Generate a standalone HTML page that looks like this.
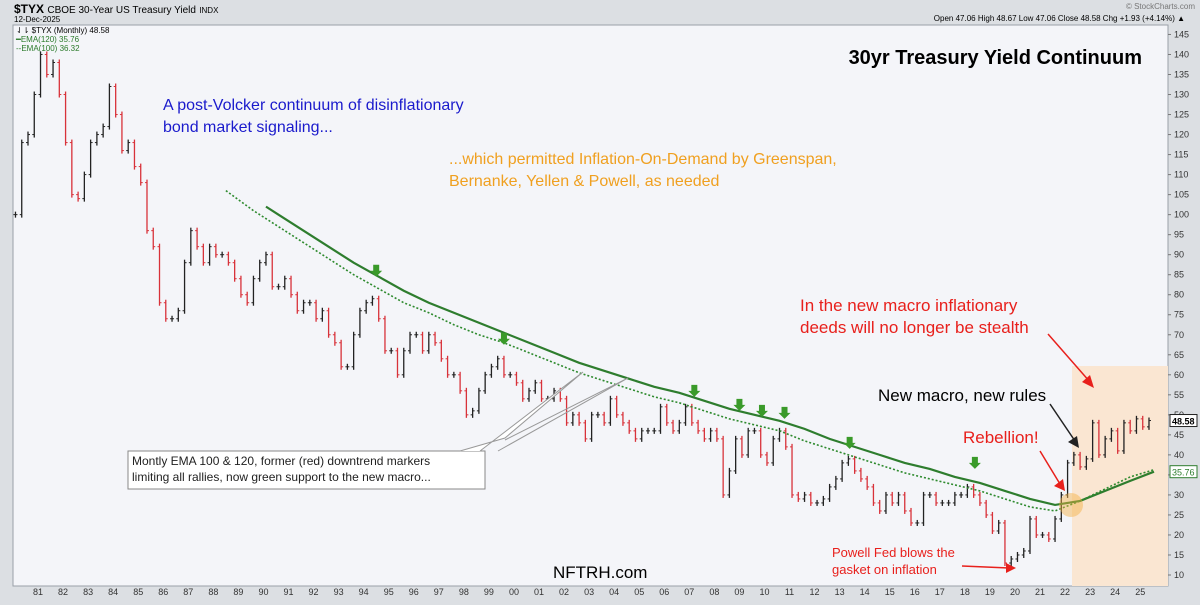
<!DOCTYPE html>
<html><head><meta charset="utf-8"><style>
body{margin:0;width:1200px;height:600px;overflow:hidden;background:#dcdfe3;font-family:"Liberation Sans",sans-serif}
</style></head><body>
<svg id="c" width="1200" height="600" xmlns="http://www.w3.org/2000/svg" font-family="Liberation Sans, sans-serif">
<rect x="0" y="0" width="1200" height="600" fill="#dcdfe3"/>
<rect x="13" y="25" width="1155" height="561" fill="#f4f5f9" stroke="#9aa0a8"/>
<rect x="1072" y="366" width="96" height="220" fill="#fae6d2"/>
<text x="14" y="13" font-size="12" font-weight="bold">$TYX <tspan font-weight="normal" font-size="10">CBOE 30-Year US Treasury Yield</tspan> <tspan font-weight="normal" font-size="8">INDX</tspan></text>
<text x="14" y="22" font-size="8">12-Dec-2025</text>
<text x="1195" y="9" font-size="8" fill="#777" text-anchor="end">© StockCharts.com</text>
<text x="1185" y="21" font-size="8" text-anchor="end">Open 47.06  High 48.67  Low 47.06  Close 48.58  Chg +1.93 (+4.14%) ▲</text>
<text x="16" y="33" font-size="8">⇃⇂ $TYX (Monthly) 48.58</text>
<text x="16" y="42" font-size="8" fill="#2a7a2a">━EMA(120) 35.76</text>
<text x="16" y="51" font-size="8" fill="#2a7a2a">--EMA(100) 36.32</text>
<g id="axes"></g><g id="bars"></g><g id="emas"></g><g id="marks"></g>
<text x="1142" y="64" font-size="20" font-weight="bold" text-anchor="end">30yr Treasury Yield Continuum</text>
<g font-size="16" fill="#1a1acc"><text x="163" y="110">A post-Volcker continuum of disinflationary</text><text x="163" y="132">bond market signaling...</text></g>
<g font-size="16" fill="#f0a020"><text x="449" y="164">...which permitted Inflation-On-Demand by Greenspan,</text><text x="449" y="186">Bernanke, Yellen &amp; Powell, as needed</text></g>
<g font-size="17" fill="#e8201c"><text x="800" y="311">In the new macro inflationary</text><text x="800" y="333">deeds will no longer be stealth</text></g>
<text x="878" y="401" font-size="17">New macro, new rules</text>
<text x="963" y="443" font-size="17" fill="#e8201c">Rebellion!</text>
<g font-size="13" fill="#e8201c"><text x="832" y="557">Powell Fed blows the</text><text x="832" y="574">gasket on inflation</text></g>
<text x="553" y="578" font-size="17">NFTRH.com</text>
<g>
<polygon points="128,451 485,451 485,489 128,489" fill="#fff" stroke="#888"/>
<polyline points="480,451 583,372 505,438 460,451" fill="#fff" stroke="#999"/>
<polyline points="498,451 628,378 505,440" fill="none" stroke="#999"/>
<rect x="129" y="452" width="355" height="36" fill="#fff"/>
<text x="132" y="465" font-size="12" fill="#222">Montly EMA 100 &amp; 120, former (red) downtrend markers</text>
<text x="132" y="481" font-size="12" fill="#222">limiting all rallies, now green support to the new macro...</text>
</g>
<g stroke-width="1.5">
<line x1="1048" y1="334" x2="1090" y2="382" stroke="#e8201c"/><polygon points="1094,388 1082,382 1090,375" fill="#e8201c"/>
<line x1="1050" y1="404" x2="1075" y2="441" stroke="#222"/><polygon points="1079,448 1068,442 1077,436" fill="#222"/>
<line x1="1040" y1="451" x2="1060" y2="484" stroke="#e8201c"/><polygon points="1065,491 1054,486 1063,479" fill="#e8201c"/>
<line x1="962" y1="566" x2="1009" y2="568" stroke="#e8201c"/><polygon points="1016,568 1006,563 1006,573" fill="#e8201c"/>
</g>
<circle cx="1071" cy="505" r="12" fill="#f5b040" opacity="0.45"/>
</svg>
<script>
const NS="http://www.w3.org/2000/svg";
const startYear=1980.5;
const closes=[100,118,
120,130,140,135, 138,130,118,105, 104,110,118,120, 122,132,125,116, 118,112,108,96,
92,78,74,74, 76,88,96,92, 88,92,90,90, 88,84,80,78, 84,88,90,82, 82,84,80,76,
78,78,74,76, 70,68,62,62, 70,76,78,79, 74,66,66,60, 66,70,70,66, 70,68,64,60,
60,56,50,51, 56,60,62,64, 60,60,58,54, 56,58,54,54, 56,54,48,50, 48,44,50,50,
48,54,50,48, 46,44,46,46, 46,52,48,46, 48,52,48,46, 44,46,44,30, 36,44,40,46,
46,40,38,44, 46,42,30,29, 30,28,28,29, 32,34,38,39, 36,34,32,28, 26,30,28,30,
26,23,23,30, 30,28,28,28, 30,30,32,30, 28,25,21,23, 13,14,15,16, 24,20,20,19,
24,30,38,40, 37,39,48,40, 44,46,41,48, 46,49,47,48.58];
const ema120Years=[1990.5,1991,1992,1993,1994,1995,1996,1997,1998,1999,2000,2001,2002,2003,2004,2005,2006,2007,2008,2009,2010,2011,2012,2013,2014,2015,2016,2017,2018,2019,2020,2021,2022,2023,2024,2025,2025.95];
const ema120=[102,100,96,92,88,84.5,81,78,75.5,73,70.5,68,65.5,63,61,59,57,55.5,53.5,51.5,50,48.5,46.5,44,42,40,38,36.5,34.5,33,31,29,27.5,28.5,31,33.5,35.8];
const ema100Years=[1988.9,1990,1991,1992,1993,1994,1995,1996,1997,1998,1999,2000,2001,2002,2003,2004,2005,2006,2007,2008,2009,2010,2011,2012,2013,2014,2015,2016,2017,2018,2019,2020,2021,2022,2023,2024,2025,2025.95];
const ema100=[106,101,97,93,89,85,81.5,78,75.5,72.5,70,68,65.5,63,60.5,58.5,56.5,54.5,53,51,49,47.5,46,43.5,41.5,39.5,37.5,35.5,34,32.5,31,29,27,26,28.5,31.5,34.5,36.3];
const arrowYears=[1994.9,2000.0,2007.6,2009.4,2010.3,2011.2,2013.8,2018.8];
const arrowVals=[83,66,53,49.5,48,47.5,40,35];
const yTicks=[10,15,20,25,30,35,40,45,50,55,60,65,70,75,80,85,90,95,100,105,110,115,120,125,130,135,140,145];
const xLabels=["81","82","83","84","85","86","87","88","89","90","91","92","93","94","95","96","97","98","99","00","01","02","03","04","05","06","07","08","09","10","11","12","13","14","15","16","17","18","19","20","21","22","23","24","25"];
const X=t=>28+(t-1981)*25.05;
const Y=v=>575-(v-10)*4.004;
function mk(tag,a,p){const e=document.createElementNS(NS,tag);for(const k in a)e.setAttribute(k,a[k]);document.getElementById(p).appendChild(e);return e;}
yTicks.forEach(v=>{
 const t=mk('text',{x:1174,y:Y(v)+3,'font-size':9,fill:'#333'},'axes');
 
 
 t.textContent=v;
 mk('line',{x1:1168,x2:1171,y1:Y(v),y2:Y(v),stroke:'#777'},'axes');
});
xLabels.forEach((s,i)=>{
 const t=mk('text',{x:X(1981+i)+10,y:595,'font-size':9,fill:'#333','text-anchor':'middle'},'axes');
 
 
 t.textContent=s;
});
let prev=closes[0];
closes.forEach((c,i)=>{
 const t=startYear+i*0.25, x=X(t);
 const hi=Math.max(prev,c), lo=Math.min(prev,c);
 const col=c>=prev?'#222':'#d8323a';
 const b=mk('line',{x1:x,x2:x,y1:Y(hi)-3,y2:Y(lo)+3,stroke:col,'stroke-width':1.3},'bars');
 
 
 mk('line',{x1:x-2,x2:x,y1:Y(prev),y2:Y(prev),stroke:col},'bars');
 mk('line',{x1:x,x2:x+2,y1:Y(c),y2:Y(c),stroke:col},'bars');
 prev=c;
});
const l1=mk('polyline',{points:ema120Years.map((t,i)=>X(t)+','+Y(ema120[i])).join(' '),fill:'none',stroke:'#2e7d2e','stroke-width':2.2},'emas');


const l2=mk('polyline',{points:ema100Years.map((t,i)=>X(t)+','+Y(ema100[i])).join(' '),fill:'none',stroke:'#2e8a2e','stroke-width':1.6,'stroke-dasharray':'2,2'},'emas');


arrowYears.forEach((t,i)=>{
 const x=X(t), y=Y(arrowVals[i])-6;
 const a=mk('polygon',{points:`${x-3},${y-12} ${x+3},${y-12} ${x+3},${y-6} ${x+6},${y-6} ${x},${y} ${x-6},${y-6} ${x-3},${y-6}`,fill:'#3a9a2a'},'marks');
 
 
});
const lc=closes[closes.length-1];
const b1=mk('rect',{x:1170,y:Y(lc)-6,width:27,height:12,fill:'#fff',stroke:'#222'},'marks');


const t1=mk('text',{x:1172,y:Y(lc)+4,'font-size':9,'font-weight':'bold'},'marks');t1.textContent=lc.toFixed(2);
const le=ema120[ema120.length-1];
const b2=mk('rect',{x:1170,y:Y(le)-6,width:27,height:12,fill:'#fff',stroke:'#2e7d2e'},'marks');


const t2=mk('text',{x:1172,y:Y(le)+4,'font-size':9,fill:'#2e7d2e'},'marks');t2.textContent='35.76';
</script>
</body></html>
